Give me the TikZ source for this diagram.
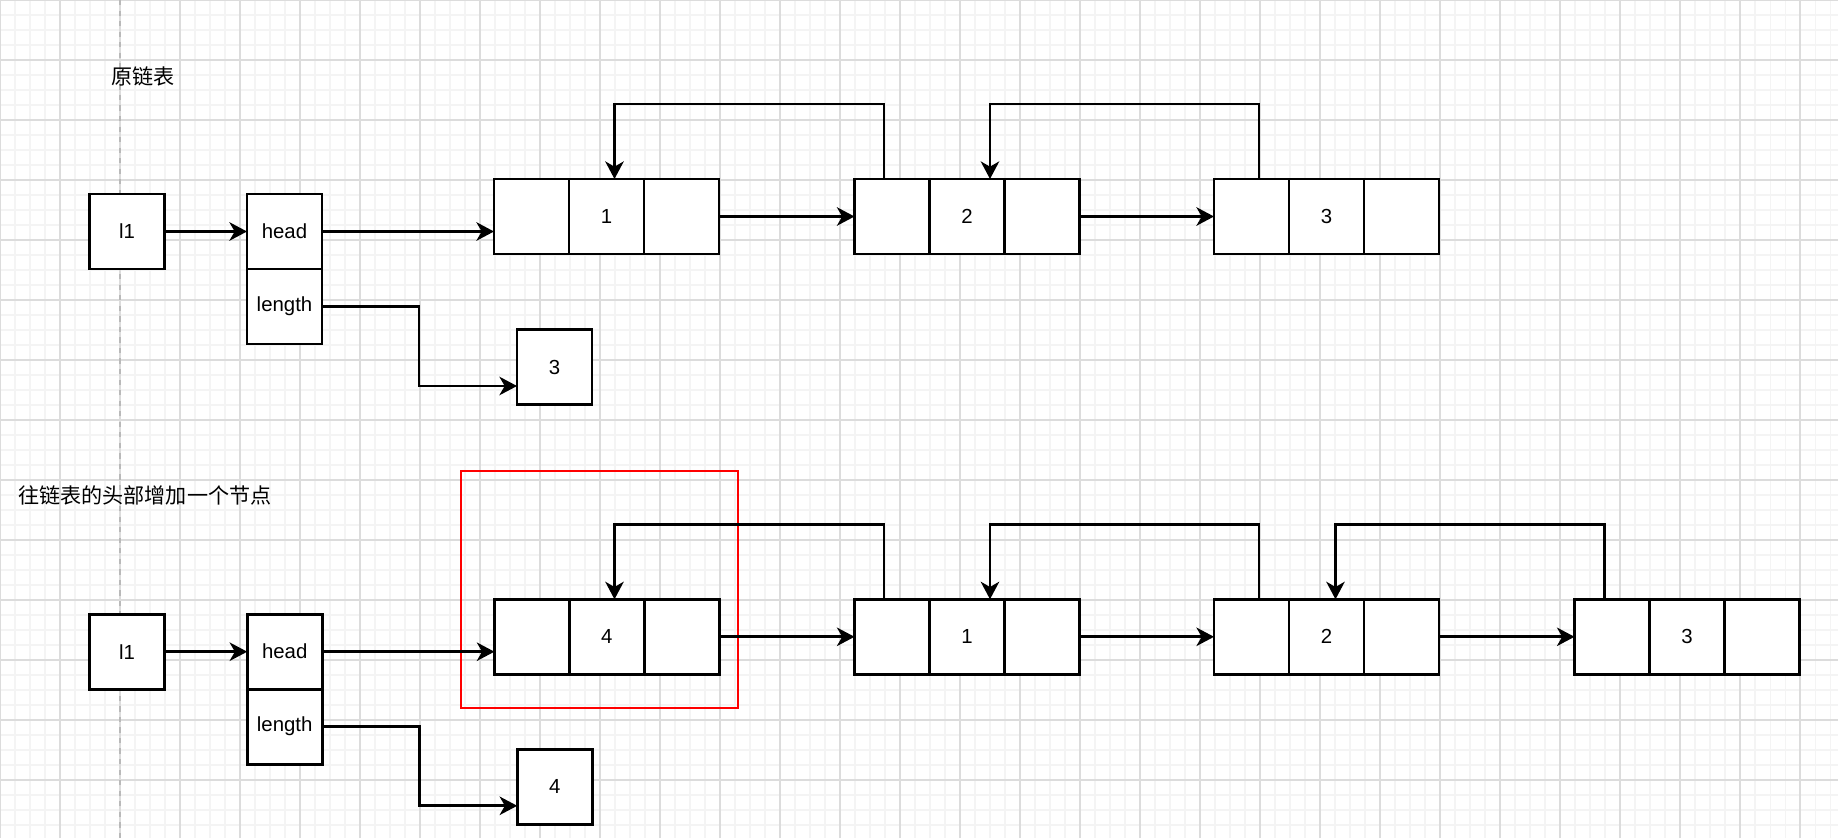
\documentclass[tikz,border=0pt]{standalone}
\usepackage{fontspec}
\setmainfont{Liberation Sans}
\newfontfamily\cjk{Noto Sans CJK SC}
\usetikzlibrary{arrows.meta,positioning,calc}
\definecolor{gridMin}{HTML}{F4F4F4}
\definecolor{gridMaj}{HTML}{DCDCDC}
\definecolor{hlRed}{HTML}{FF0000}
\tikzset{
  cell/.style={draw, fill=white, line width=1.55pt, minimum width=1.5cm, minimum height=1.5cm, inner sep=0pt, outer sep=0pt, font=\fontsize{11.6}{14}\selectfont},
  arr/.style={-{Stealth[length=10pt, width=10.5pt, inset=3pt]}, line width=1.5pt},
  note/.style={anchor=west, inner sep=0pt, font=\cjk\fontsize{12}{14}\selectfont},
  hl/.style={draw=hlRed, line width=1.3pt},
}

\begin{document}
\begin{tikzpicture}[x=0.02cm, y=0.02cm]
  \useasboundingbox (0,0) rectangle (1838,-838);
  \fill[white] (0,0) rectangle (1838,-838);
  \draw[step=15, gridMin, line width=0.6pt] (0,-838) grid (1838,0);
  \draw[step=60, gridMaj, line width=0.7pt] (0,-838) grid (1838,0);
  \draw[dashed, gray!55, line width=0.7pt] (120,0) -- (120,-838);

  % original list
  \node[note] (t1) at (111,-76) {原链表};
  \node[cell] (l1a) at (127,-231.5) {l1};
  \node[cell] (hd1) at (284.5,-231.5) {head};
  \node[cell, below=0pt of hd1] (len1) {length};
  \node[cell] (num1) at (554.5,-367) {3};
  \node[cell] (n1a) at (531.5,-216.5) {};
  \node[cell, right=0pt of n1a] (n1b) {1};
  \node[cell, right=0pt of n1b] (n1c) {};
  \node[cell] (n2a) at (892,-216.5) {};
  \node[cell, right=0pt of n2a] (n2b) {2};
  \node[cell, right=0pt of n2b] (n2c) {};
  \node[cell] (n3a) at (1251.5,-216.5) {};
  \node[cell, right=0pt of n3a] (n3b) {3};
  \node[cell, right=0pt of n3b] (n3c) {};

  \draw[arr] (l1a) -- (hd1);
  \draw[arr] (hd1.east) -- (hd1.east -| n1a.west);
  \draw[arr] (len1.east) -- ++(97,0) |- ($(num1.west)+(0,-19)$);
  \draw[arr] (n1c) -- (n2a);
  \draw[arr] (n2c) -- (n3a);
  \draw[arr] ($(n2a.north)+(-8,0)$) -- ++(0,75) -| ($(n1b.north)+(8,0)$);
  \draw[arr] ($(n3a.north)+(7.5,0)$) -- ++(0,75) -| ($(n2b.north)+(23,0)$);

  % new node at the head
  \node[note] (t2) at (18,-495) {往链表的头部增加一个节点};
  \node[cell] (l1b) at (127,-651.7) {l1};
  \node[cell] (hd2) at (284.7,-651.7) {head};
  \node[cell, below=0pt of hd2] (len2) {length};
  \node[cell] (num2) at (554.7,-786.8) {4};
  \node[cell] (m4a) at (531.9,-636.8) {};
  \node[cell, right=0pt of m4a] (m4b) {4};
  \node[cell, right=0pt of m4b] (m4c) {};
  \node[cell] (m1a) at (892,-636.8) {};
  \node[cell, right=0pt of m1a] (m1b) {1};
  \node[cell, right=0pt of m1b] (m1c) {};
  \node[cell] (m2a) at (1251.5,-636.8) {};
  \node[cell, right=0pt of m2a] (m2b) {2};
  \node[cell, right=0pt of m2b] (m2c) {};
  \node[cell] (m3a) at (1612,-636.8) {};
  \node[cell, right=0pt of m3a] (m3b) {3};
  \node[cell, right=0pt of m3b] (m3c) {};

  \draw[hl] (461,-471) rectangle (738,-708);

  \draw[arr] (l1b) -- (hd2);
  \draw[arr] (hd2.east) -- (hd2.east -| m4a.west);
  \draw[arr] (len2.east) -- ++(97,0) |- ($(num2.west)+(0,-19)$);
  \draw[arr] (m4c) -- (m1a);
  \draw[arr] (m1c) -- (m2a);
  \draw[arr] (m2c) -- (m3a);
  \draw[arr] ($(m1a.north)+(-8,0)$) -- ++(0,75) -| ($(m4b.north)+(7.6,0)$);
  \draw[arr] ($(m2a.north)+(7.5,0)$) -- ++(0,75) -| ($(m1b.north)+(23,0)$);
  \draw[arr] ($(m3a.north)+(-7.3,0)$) -- ++(0,75) -| ($(m2b.north)+(9,0)$);
\end{tikzpicture}
\end{document}
